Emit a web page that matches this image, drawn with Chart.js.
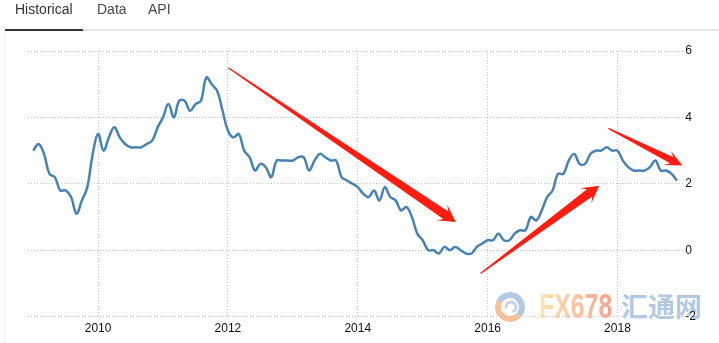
<!DOCTYPE html>
<html>
<head>
<meta charset="utf-8">
<script src="https://cdn.jsdelivr.net/npm/chart.js@4/dist/chart.umd.min.js"></script>
<style>
body { margin: 0; background: #fff; font-family: "Liberation Sans", Arial, sans-serif; }
#wrap { position: relative; width: 719px; height: 343px; overflow: hidden; }
#chart { position: absolute; left: 0; top: 0; }
.tab { position: absolute; top: 1px; font-size: 14px; line-height: 16px; color: #4a4a4a; }
.tab.active { color: #333; }
#tabline { position: absolute; left: 83px; top: 29px; width: 636px; height: 2px; background: #e3e3e3; }
#tabsel { position: absolute; left: 5px; top: 29px; width: 78px; height: 2px; background: #333; }
#panel { position: absolute; left: 4px; top: 31px; width: 1px; height: 312px; background: #f0f0f0; }
</style>
</head>
<body>
<div id="wrap">
  <canvas id="chart" width="719" height="343"></canvas>
  <div class="tab active" style="left:15px">Historical</div>
  <div class="tab" style="left:97px">Data</div>
  <div class="tab" style="left:148px">API</div>
  <div id="tabline"></div>
  <div id="tabsel"></div>
  <div id="panel"></div>
</div>
<script>
// monthly inflation rate, %, Jan 2009 .. Dec 2018
var start_year = 2009;
var rate_2009 = [3.0, 3.2, 2.9, 2.3, 2.2, 1.8, 1.8, 1.6, 1.1, 1.5, 1.9, 2.9];
var rate_2010 = [3.5, 3.0, 3.4, 3.7, 3.4, 3.2, 3.1, 3.1, 3.1, 3.2, 3.3, 3.7];
var rate_2011 = [4.0, 4.4, 4.0, 4.5, 4.5, 4.2, 4.4, 4.5, 5.2, 5.0, 4.8, 4.2];
var rate_2012 = [3.6, 3.4, 3.5, 3.0, 2.8, 2.4, 2.6, 2.5, 2.2, 2.7, 2.7, 2.7];
var rate_2013 = [2.7, 2.8, 2.8, 2.4, 2.7, 2.9, 2.8, 2.7, 2.7, 2.2, 2.1, 2.0];
var rate_2014 = [1.9, 1.7, 1.6, 1.8, 1.5, 1.9, 1.6, 1.5, 1.2, 1.3, 1.0, 0.5];
var rate_2015 = [0.3, 0.0, 0.0, -0.1, 0.1, 0.0, 0.1, 0.0, -0.1, -0.1, 0.1, 0.2];
var rate_2016 = [0.3, 0.3, 0.5, 0.3, 0.3, 0.5, 0.6, 0.6, 1.0, 0.9, 1.2, 1.6];
var rate_2017 = [1.8, 2.3, 2.3, 2.7, 2.9, 2.6, 2.6, 2.9, 3.0, 3.0, 3.1, 3.0];
var rate_2018 = [3.0, 2.7, 2.5, 2.4, 2.4, 2.4, 2.5, 2.7, 2.4, 2.4, 2.3, 2.1];

var x_ticks = [2010, 2012, 2014, 2016, 2018];
var y_ticks = [-2, 0, 2, 4, 6];

// annotation arrows, in data units [year, value]
var arrows = [
  { from: [2012.01, 5.49], to: [2015.51, 0.85], w: 4.5, barb: 9.5 },
  { from: [2015.89, -0.70], to: [2017.72, 1.94], w: 4.5, barb: 9.5 },
  { from: [2017.86, 3.67], to: [2019.00, 2.55], w: 3.5, barb: 8 }
];

var all_years = [rate_2009, rate_2010, rate_2011, rate_2012, rate_2013,
                 rate_2014, rate_2015, rate_2016, rate_2017, rate_2018];
var points = [];
for (let y = 0; y < all_years.length; y++) {
  for (let m = 0; m < all_years[y].length; m++) {
    points.push({ x: start_year + y + m / 12, y: all_years[y][m] });
  }
}

var watermark = {
  id: 'watermark',
  beforeDraw: function(chart) {
    var ctx = chart.ctx;
    ctx.save();
    // swirl logo
    ctx.lineWidth = 6;
    ctx.strokeStyle = '#b3c8e2';
    ctx.beginPath(); ctx.arc(510, 307, 12, -Math.PI * 0.85, Math.PI * 0.25); ctx.stroke();
    ctx.strokeStyle = '#f8c09a';
    ctx.beginPath(); ctx.arc(510, 307, 12, Math.PI * 0.25, Math.PI * 1.15); ctx.stroke();
    ctx.lineWidth = 3;
    ctx.strokeStyle = '#c3d3e6';
    ctx.beginPath(); ctx.arc(511, 307, 5, Math.PI * 0.9, Math.PI * 2.4); ctx.stroke();
    // FX678
    ctx.save();
    ctx.translate(539, 318);
    ctx.scale(0.71, 1);
    var g = ctx.createLinearGradient(0, 0, 103, 0);
    g.addColorStop(0, '#fde6b0');
    g.addColorStop(1, '#f7a28e');
    ctx.fillStyle = g;
    ctx.font = 'bold 35px "Liberation Sans", Arial, sans-serif';
    ctx.textBaseline = 'alphabetic';
    ctx.fillText('FX678', 0, 0);
    ctx.restore();
    // 汇通网
    ctx.fillStyle = '#b2c9e5';
    ctx.font = 'bold 27px "Noto Sans CJK SC", sans-serif';
    ctx.textBaseline = 'middle';
    ctx.fillText('汇通网', 621, 307);
    ctx.restore();
  }
};

var arrowPlugin = {
  id: 'arrows',
  afterDatasetsDraw: function(chart) {
    var ctx = chart.ctx, xs = chart.scales.x, ys = chart.scales.y;
    ctx.save();
    ctx.fillStyle = '#fe1d10';
    arrows.forEach(function(a) {
      var x0 = xs.getPixelForValue(a.from[0]), y0 = ys.getPixelForValue(a.from[1]);
      var x1 = xs.getPixelForValue(a.to[0]), y1 = ys.getPixelForValue(a.to[1]);
      var len = Math.hypot(x1 - x0, y1 - y0);
      var ux = (x1 - x0) / len, uy = (y1 - y0) / len;
      var nx = -uy, ny = ux;
      function p(along, side) { return [x0 + ux * along + nx * side, y0 + uy * along + ny * side]; }
      var pts = [p(0, 0.6), p(len - 12, a.w), p(len - 17, a.barb), p(len, 0),
                 p(len - 17, -a.barb), p(len - 12, -a.w), p(0, -0.6)];
      ctx.beginPath();
      ctx.moveTo(pts[0][0], pts[0][1]);
      for (let i = 1; i < pts.length; i++) ctx.lineTo(pts[i][0], pts[i][1]);
      ctx.closePath();
      ctx.fill();
    });
    ctx.restore();
  }
};

const data = {
  datasets: [{
    label: 'Inflation rate',
    data: points,
    borderColor: '#4682b4',
    borderWidth: 2.5,
    pointRadius: 0,
    tension: 0.4,
    fill: false
  }]
};

const config = {
  type: 'line',
  data: data,
  options: {
    responsive: false,
    animation: false,
    layout: { padding: { left: 28, top: 51, right: 22, bottom: 2 } },
    scales: {
      x: {
        type: 'linear',
        min: 2008.92,
        max: 2019.03,
        afterBuildTicks: function(scale) { scale.ticks = x_ticks.map(function(v) { return { value: v }; }); },
        ticks: {
          padding: 5,
          color: '#111',
          font: { family: '"Liberation Sans", Arial, sans-serif', size: 12 },
          callback: function(v) { return String(v); }
        },
        grid: { color: '#c4c4c4', drawTicks: false },
        border: { display: false, dash: [1, 2] }
      },
      y: {
        position: 'right',
        min: -2,
        max: 6,
        afterBuildTicks: function(scale) { scale.ticks = y_ticks.map(function(v) { return { value: v }; }); },
        ticks: {
          padding: 1,
          color: '#111',
          font: { family: '"Liberation Sans", Arial, sans-serif', size: 12 },
          callback: function(v) { return String(v); }
        },
        grid: { color: '#c4c4c4', drawTicks: false },
        border: { display: false, dash: [1, 2] }
      }
    },
    plugins: {
      legend: { display: false },
      tooltip: { enabled: false }
    }
  },
  plugins: [watermark, arrowPlugin]
};

const myChart = new Chart(document.getElementById('chart'), config);
</script>
</body>
</html>
